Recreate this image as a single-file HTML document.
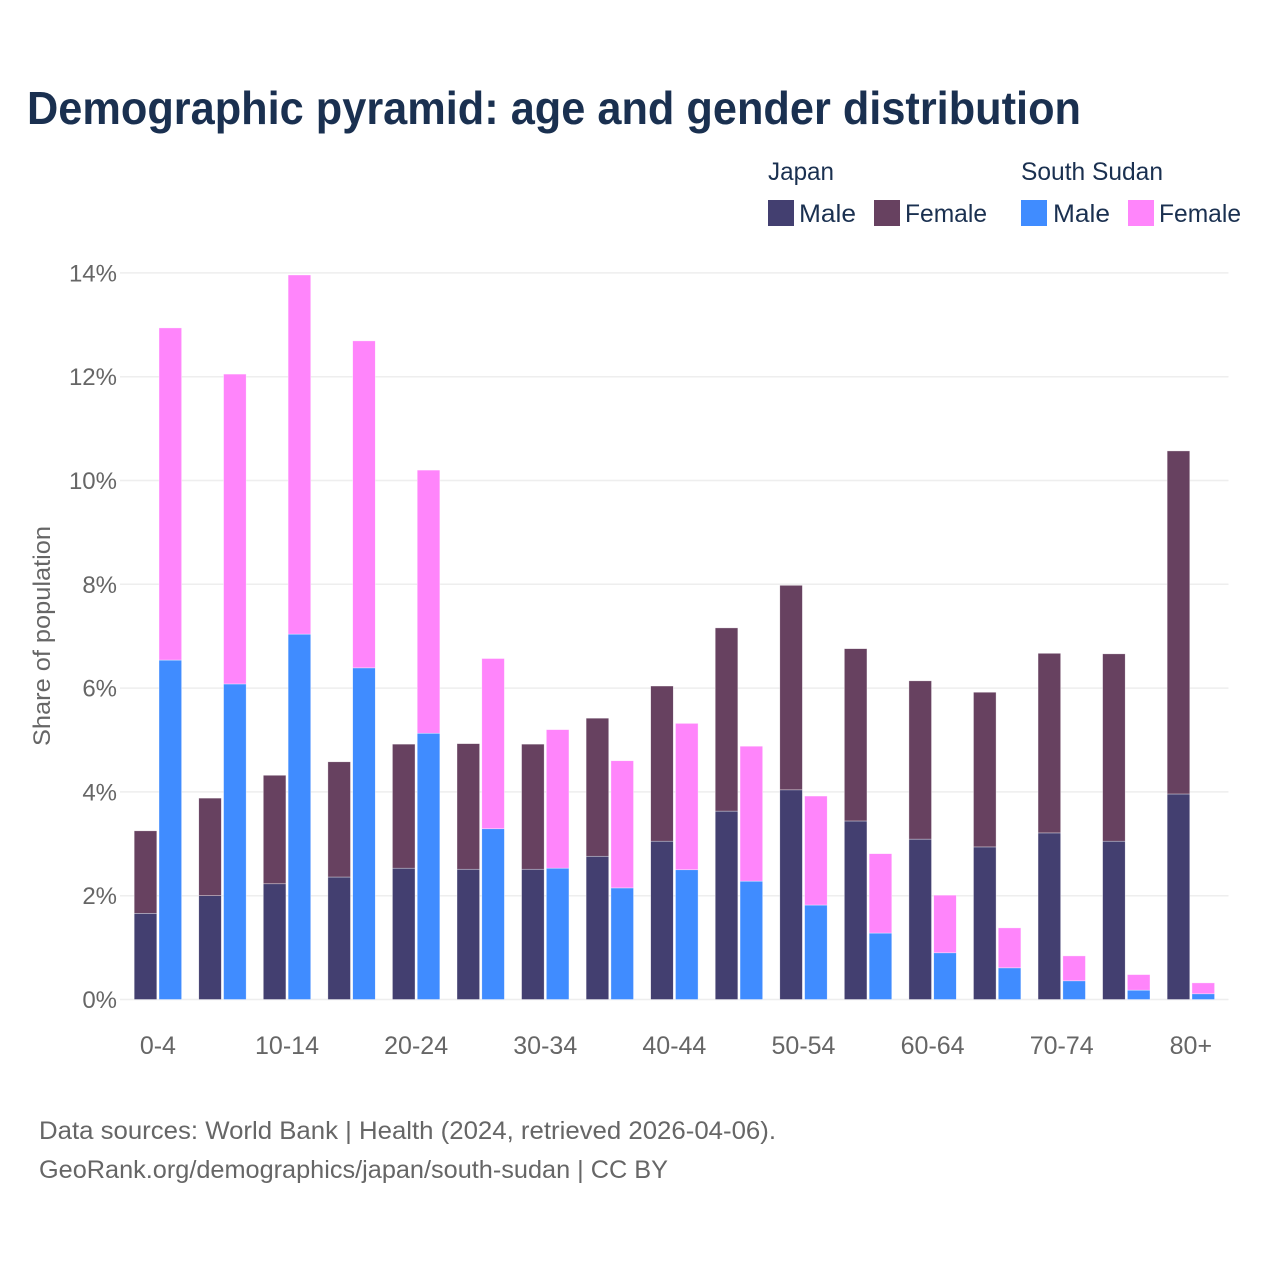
<!DOCTYPE html>
<html lang="en">
<head>
<meta charset="utf-8">
<title>Demographic pyramid: age and gender distribution</title>
<style>
  html, body { margin: 0; padding: 0; background: #ffffff; }
  svg { display: block; }
  text { font-family: "Liberation Sans", sans-serif; }
  .title { font-size: 46px; font-weight: 700; fill: #1a3050; }
  .legend { font-size: 25px; fill: #1a3050; }
  .foot { font-size: 25px; fill: #666666; }
  .tick { font-size: 24px; fill: #666666; }
  .xtick { font-size: 25px; fill: #666666; }
</style>
</head>
<body>
<svg id="chart" xmlns="http://www.w3.org/2000/svg" width="1280" height="1280" viewBox="0 0 1280 1280">
  <rect x="0" y="0" width="1280" height="1280" fill="#ffffff"/>
  <text class="title" x="27" y="124" textLength="1054" lengthAdjust="spacingAndGlyphs">Demographic pyramid: age and gender distribution</text>

  <g>
    <text class="legend" x="768" y="180" textLength="66" lengthAdjust="spacingAndGlyphs">Japan</text>
    <text class="legend" x="1021" y="180" textLength="142" lengthAdjust="spacingAndGlyphs">South Sudan</text>
    <rect x="768" y="200" width="26" height="26" fill="#433f70"/>
    <text class="legend" x="799" y="222" textLength="57" lengthAdjust="spacingAndGlyphs">Male</text>
    <rect x="874" y="200" width="26" height="26" fill="#674160"/>
    <text class="legend" x="905" y="222" textLength="82" lengthAdjust="spacingAndGlyphs">Female</text>
    <rect x="1021" y="200" width="26" height="26" fill="#408cff"/>
    <text class="legend" x="1053" y="222" textLength="57" lengthAdjust="spacingAndGlyphs">Male</text>
    <rect x="1128" y="200" width="26" height="26" fill="#ff85fb"/>
    <text class="legend" x="1159" y="222" textLength="82" lengthAdjust="spacingAndGlyphs">Female</text>
  </g>

  <g id="grid"></g>
  <g id="bars"></g>
  <g id="y-ticks"></g>
  <g id="x-ticks"></g>

  <text class="tick" transform="translate(50 636) rotate(-90)" text-anchor="middle" textLength="220" lengthAdjust="spacingAndGlyphs">Share of population</text>

  <text class="foot" x="39" y="1139" textLength="737" lengthAdjust="spacingAndGlyphs">Data sources: World Bank | Health (2024, retrieved 2026-04-06).</text>
  <text class="foot" x="39" y="1178" textLength="629" lengthAdjust="spacingAndGlyphs">GeoRank.org/demographics/japan/south-sudan | CC BY</text>
</svg>

<script>
const ageGroups = ["0-4","5-9","10-14","15-19","20-24","25-29","30-34","35-39","40-44","45-49","50-54","55-59","60-64","65-69","70-74","75-79","80+"];
const japanMale = [1.66,2.00,2.23,2.36,2.53,2.51,2.51,2.76,3.05,3.63,4.04,3.44,3.09,2.94,3.21,3.05,3.96];
const japanFemale = [1.59,1.88,2.09,2.22,2.39,2.42,2.41,2.66,2.99,3.53,3.94,3.32,3.05,2.98,3.46,3.61,6.61];
const southSudanMale = [6.54,6.08,7.04,6.39,5.13,3.29,2.53,2.15,2.50,2.28,1.82,1.28,0.90,0.61,0.36,0.18,0.11];
const southSudanFemale = [6.40,5.97,6.92,6.30,5.07,3.28,2.67,2.45,2.82,2.60,2.10,1.53,1.11,0.77,0.48,0.30,0.21];
const yTickValues = [0,2,4,6,8,10,12,14];

const SVG_NS = "http://www.w3.org/2000/svg";
const PLOT_LEFT = 120;
const PLOT_RIGHT = 1229;
const Y_ZERO = 999.5;
const PX_PER_PERCENT = 51.9;
const GROUP_START = 134.2;
const GROUP_STEP = 64.56;
const BAR_WIDTH = 22.6;
const BAR_OFFSET = 24.8;

function yScale(value) {
  return Y_ZERO - value * PX_PER_PERCENT;
}
function xScale(index) {
  return GROUP_START + index * GROUP_STEP;
}
function make(tag, attrs, parent) {
  const el = document.createElementNS(SVG_NS, tag);
  Object.keys(attrs).forEach(function (k) { el.setAttribute(k, attrs[k]); });
  parent.appendChild(el);
  return el;
}
function drawSegment(parent, x, base, value, fill) {
  const top = yScale(base + value);
  const bottom = yScale(base);
  return make("rect", {
    x: x, y: top, width: BAR_WIDTH, height: bottom - top,
    fill: fill, stroke: "#ffffff", "stroke-width": 0.6, "stroke-opacity": 0.6
  }, parent);
}

const gridLayer = document.getElementById("grid");
const barLayer = document.getElementById("bars");
const yTickLayer = document.getElementById("y-ticks");
const xTickLayer = document.getElementById("x-ticks");

yTickValues.forEach(function (tick) {
  const line = make("line", {
    x1: PLOT_LEFT, x2: PLOT_RIGHT - 0.5, y1: yScale(tick), y2: yScale(tick),
    stroke: "#eeeeee", "stroke-width": 1.5
  }, gridLayer);
  
  

  const label = make("text", {
    x: 117, y: yScale(tick) + 8.5, "text-anchor": "end", "class": "tick"
  }, yTickLayer);
  label.textContent = tick + "%";
  
  
});

ageGroups.forEach(function (group, i) {
  const x = xScale(i);

  const jm = drawSegment(barLayer, x, 0, japanMale[i], "#433f70");
  
  

  const jf = drawSegment(barLayer, x, japanMale[i], japanFemale[i], "#674160");
  
  

  const sm = drawSegment(barLayer, x + BAR_OFFSET, 0, southSudanMale[i], "#408cff");
  
  

  const sf = drawSegment(barLayer, x + BAR_OFFSET, southSudanMale[i], southSudanFemale[i], "#ff85fb");
  
  

  if (i % 2 === 0) {
    const label = make("text", {
      x: x + (BAR_OFFSET + BAR_WIDTH) / 2, y: 1054, "text-anchor": "middle", "class": "xtick"
    }, xTickLayer);
    label.textContent = group;
    
    
  }
});
</script>
</body>
</html>
